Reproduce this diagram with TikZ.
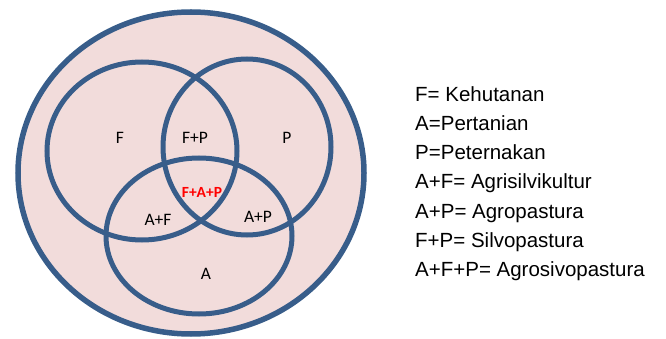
\documentclass[tikz,border=0pt]{standalone}
\usepackage{fontspec}
\setmainfont{Carlito}
\newfontfamily\legendfont{Liberation Sans}
\definecolor{ringblue}{HTML}{385D8A}
\definecolor{ringfill}{HTML}{F2DCDB}
\begin{document}
\begin{tikzpicture}[x=1pt,y=-1pt,
  ring/.style={draw=ringblue,line width=5pt},
  setlabel/.style={font=\fontsize{17.5}{20}\selectfont,inner sep=0pt},
  corelabel/.style={font=\fontsize{15.5}{18}\selectfont\bfseries,text=red,inner sep=0pt},
  legend/.style={font=\legendfont\fontsize{20.5}{24}\selectfont,anchor=base west,inner sep=0pt}]
\useasboundingbox (0,0) rectangle (666,339);
% universe and the three overlapping sets
\draw[ring,fill=ringfill,line width=5.5pt] (191,173) ellipse [x radius=173,y radius=161];
\draw[ring] (142,151) ellipse [x radius=95,y radius=89];
\draw[ring] (247,147) ellipse [x radius=84,y radius=88];
\draw[ring] (199,236) ellipse [x radius=93,y radius=78];
% region labels
\node[setlabel] (lF)  at (120,138) {F};
\node[setlabel] (lFP) at (195,138) {F+P};
\node[setlabel] (lP)  at (287,138) {P};
\node[corelabel] (lFAP) at (202,192) {F+A+P};
\node[setlabel] (lAF) at (158,220) {A+F};
\node[setlabel] (lAP) at (258,217) {A+P};
\node[setlabel] (lA)  at (206,274) {A};
% legend
\node[legend] (k1) at (415,101.5) {F= Kehutanan};
\node[legend] (k2) at (415,130.7) {A=Pertanian};
\node[legend] (k3) at (415,159.9) {P=Peternakan};
\node[legend] (k4) at (415,189.0) {A+F= Agrisilvikultur};
\node[legend] (k5) at (415,218.2) {A+P= Agropastura};
\node[legend] (k6) at (415,247.4) {F+P= Silvopastura};
\node[legend] (k7) at (415,276.5) {A+F+P= Agrosivopastura};
\end{tikzpicture}
\end{document}
